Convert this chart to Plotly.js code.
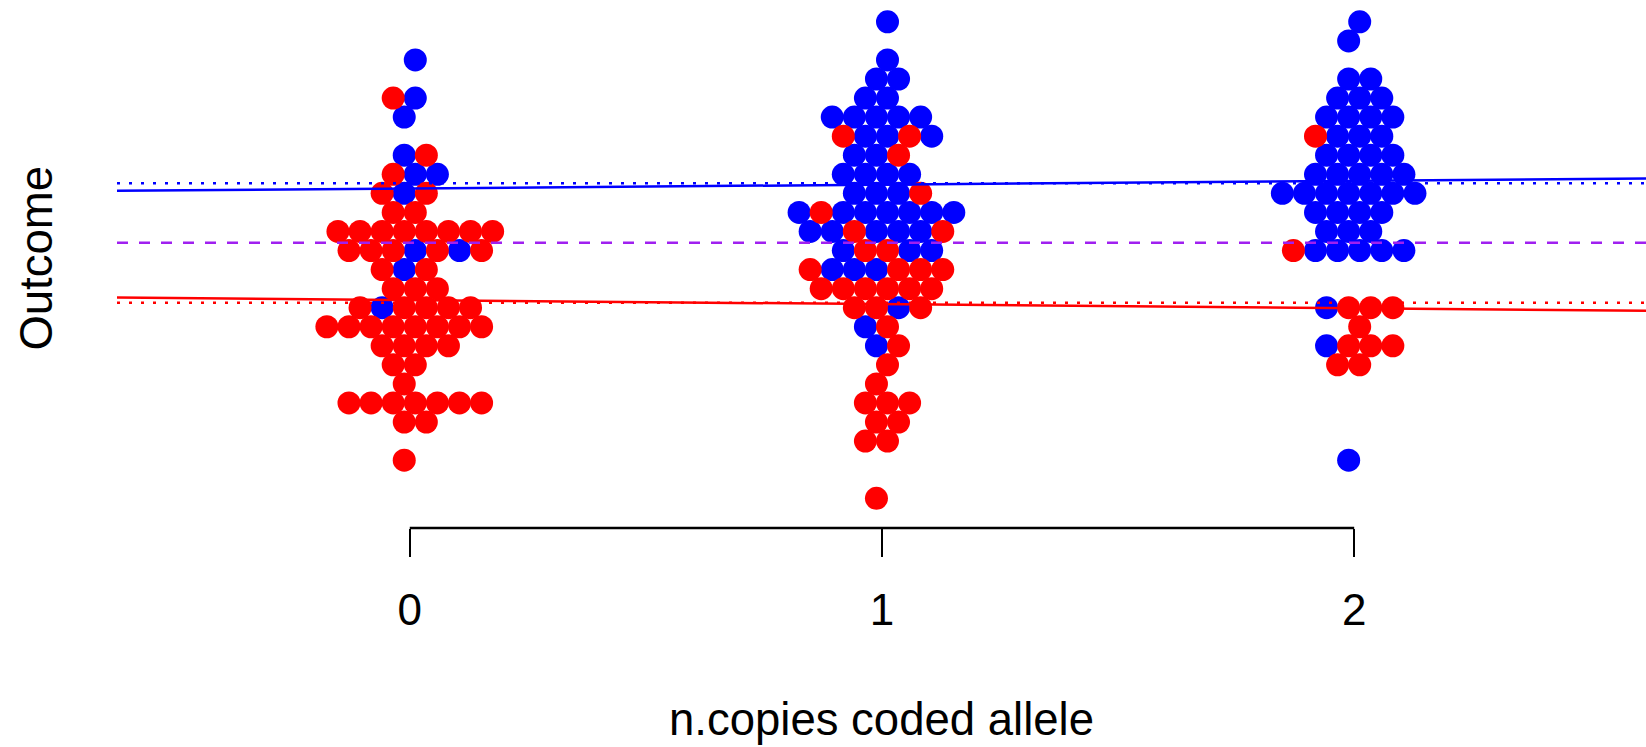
<!DOCTYPE html>
<html>
<head>
<meta charset="utf-8">
<script src="https://cdn.plot.ly/plotly-3.0.1.min.js"></script>
<style>
html,body{margin:0;padding:0;background:#ffffff;}
#chart{width:1646px;height:747px;}
</style>
</head>
<body>
<div id="chart"></div>
<script>
// ---- Data ----
// Each entry is one outcome bin of the beeswarm: number of coded-allele copies,
// binned outcome value, and the group of each point in that bin (left to right).
const rowCopies = [
  0,0,0,0,0,0,0,0,0,0,0,0,0,0,0,0,0,0,0,
  1,1,1,1,1,1,1,1,1,1,1,1,1,1,1,1,1,1,1,1,1,1,1,
  2,2,2,2,2,2,2,2,2,2,2,2,2,2,2,2,2
];
const rowOutcome = [
  2.0,1.6,1.4,1.0,0.8,0.6,0.4,0.2,0.0,-0.2,-0.4,-0.6,-0.8,-1.0,-1.2,-1.4,-1.6,-1.8,-2.2,
  2.4,2.0,1.8,1.6,1.4,1.2,1.0,0.8,0.6,0.4,0.2,0.0,-0.2,-0.4,-0.6,-0.8,-1.0,-1.2,-1.4,-1.6,-1.8,-2.0,-2.6,
  2.4,2.2,1.8,1.6,1.4,1.2,1.0,0.8,0.6,0.4,0.2,0.0,-0.6,-0.8,-1.0,-1.2,-2.2
];
const rowGroups = [
  "b","ab","b","ba","abb","aba","aa","aaaaaaaa","aaababa","aba","aaa","abaaaa","aaaaaaaa","aaaa","aa","a","aaaaaaa","aa","a",
  "b","b","bb","bb","bbbbb","abbab","bba","bbbb","bbba","babbbbbb","bbabbba","baabb","abbbaaa","aaaaaa","aaba","ba","ba","a","a","aaa","aa","aa","a",
  "b","b","bb","bbb","bbbb","abbb","bbbb","bbbbb","bbbbbbb","bbbb","bbb","abbbbb","baaa","a","baaa","aa","b"
];
const tickValues = [0, 1, 2];
const tickLabels = ["0", "1", "2"];
const groupCodes = ["a", "b"];
const groupMean = [-0.548, 0.705];        // dotted lines
const groupIntercept = [-0.520, 0.651];   // solid regression lines
const groupSlope = [-0.043, 0.040];
const overallMean = 0.082;                // dashed line

// ---- Styling / layout constants ----
const groupColor = {a: "#FF0000", b: "#0000FF"};
const X_RANGE = [-0.62, 2.618];
const Y_RANGE = [-2.912, 2.629];
const BIN_STEP = 0.2, BIN_TOP = 2.4;
const SWARM_DX = 22.1 / 472.2;  // horizontal spacing of swarm points, in x units

function swarmSlots(n, k) {
  const s = (k % 2 === 0) ? 0.25 : -0.25;
  const cand = [];
  for (let m = -30; m <= 30; m++) cand.push(s + m);
  cand.sort((p, q) => Math.abs(p) - Math.abs(q));
  return cand.slice(0, n).sort((p, q) => p - q);
}

const pts = {a: {x: [], y: []}, b: {x: [], y: []}};
for (let i = 0; i < rowCopies.length; i++) {
  const g = rowGroups[i];
  const k = Math.round((BIN_TOP - rowOutcome[i]) / BIN_STEP);
  const sl = swarmSlots(g.length, k);
  for (let j = 0; j < g.length; j++) {
    pts[g[j]].x.push(rowCopies[i] + sl[j] * SWARM_DX);
    pts[g[j]].y.push(rowOutcome[i]);
  }
}

const traces = [];
["b", "a"].forEach(g => {
  traces.push({
    type: "scatter", mode: "markers", x: pts[g].x, y: pts[g].y,
    marker: {color: groupColor[g], size: 23, line: {width: 0}},
    hoverinfo: "skip", cliponaxis: false
  });
});
groupCodes.forEach((g, i) => {
  traces.push({
    type: "scatter", mode: "lines", x: X_RANGE, y: [groupMean[i], groupMean[i]],
    line: {color: groupColor[g], width: 2.5, dash: "3px,9px"}, hoverinfo: "skip"
  });
  traces.push({
    type: "scatter", mode: "lines", x: X_RANGE,
    y: X_RANGE.map(x => groupIntercept[i] + groupSlope[i] * x),
    line: {color: groupColor[g], width: 2.5}, hoverinfo: "skip"
  });
});
traces.push({
  type: "scatter", mode: "lines", x: X_RANGE, y: [overallMean, overallMean],
  line: {color: "#A020F0", width: 2.5, dash: "11px,11px"}, hoverinfo: "skip"
});

const FONT = "Liberation Sans, Arial, Helvetica, sans-serif";
const layout = {
  width: 1646, height: 747,
  margin: {l: 117, r: 0, t: 0, b: 219, pad: 0},
  paper_bgcolor: "#ffffff", plot_bgcolor: "#ffffff",
  showlegend: false,
  font: {family: FONT, size: 44, color: "#000000"},
  xaxis: {
    range: X_RANGE, tickmode: "array", tickvals: tickValues, ticktext: tickLabels,
    ticks: "outside", ticklen: 28, tickwidth: 2.5, tickcolor: "#000000",
    showline: false, showgrid: false, zeroline: false,
    ticklabelstandoff: 15, tickfont: {family: FONT, size: 44, color: "#000000"}
  },
  yaxis: {
    range: Y_RANGE, showticklabels: false, ticks: "",
    showline: false, showgrid: false, zeroline: false
  },
  shapes: [{
    type: "line", xref: "x", yref: "paper",
    x0: tickValues[0], x1: tickValues[tickValues.length - 1], y0: 0, y1: 0,
    line: {color: "#000000", width: 2.5}
  }],
  annotations: [
    {text: "n.copies coded allele", xref: "paper", yref: "paper", x: 0.5, y: -0.363,
     xanchor: "center", yanchor: "middle", showarrow: false,
     font: {family: FONT, size: 45.5, color: "#000000"}},
    {text: "Outcome", xref: "paper", yref: "paper", x: -0.0527, y: 0.511,
     textangle: -90, xanchor: "center", yanchor: "middle", showarrow: false,
     font: {family: FONT, size: 45.5, color: "#000000"}}
  ]
};

Plotly.newPlot("chart", traces, layout, {displayModeBar: false, staticPlot: true});
</script>
</body>
</html>
